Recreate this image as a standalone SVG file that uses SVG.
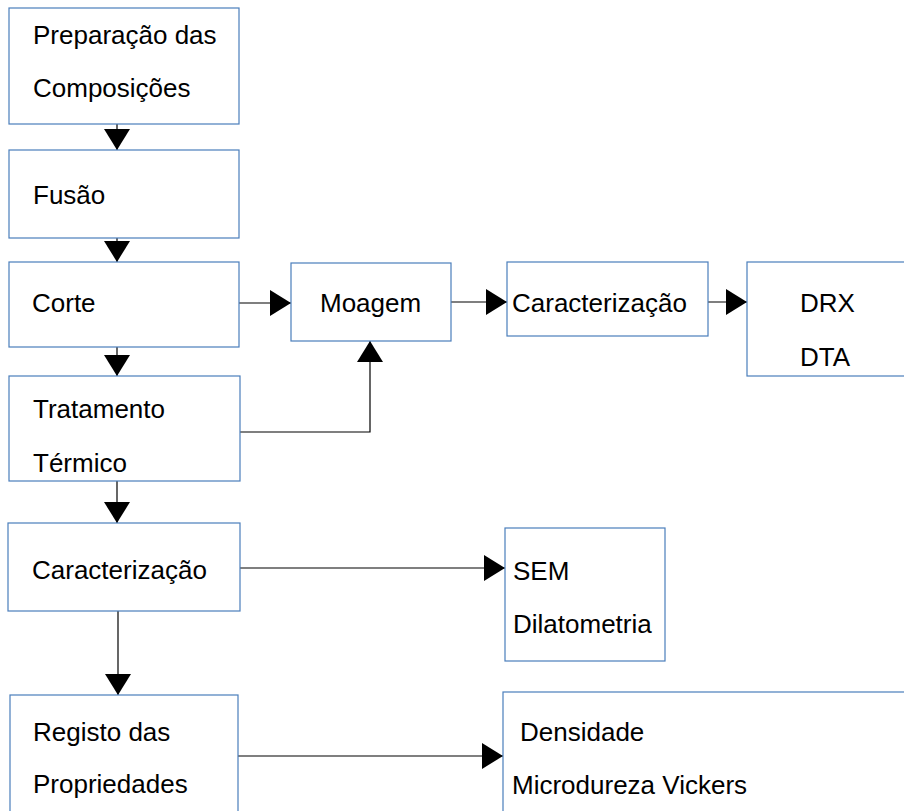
<svg xmlns="http://www.w3.org/2000/svg" width="904" height="811" viewBox="0 0 904 811">
<style>
.box{fill:#fff;stroke:#4a7ebb;stroke-width:1.2}
.t{font-family:"Liberation Sans",Arial,sans-serif;font-size:26px;fill:#000}
.c{fill:none;stroke:#000;stroke-width:1.2}
</style>
<defs>
<marker id="ah" viewBox="0 0 21 26" refX="21" refY="13" markerWidth="21" markerHeight="26" markerUnits="userSpaceOnUse" orient="auto">
<path d="M0,0 L21,13 L0,26 Z" fill="#000"/>
</marker>
</defs>
<rect width="904" height="811" fill="#fff"/>
<g id="connectors">
<path class="c" d="M117,124 V150" marker-end="url(#ah)"/>
<path class="c" d="M117,238 V262" marker-end="url(#ah)"/>
<path class="c" d="M117,347 V376" marker-end="url(#ah)"/>
<path class="c" d="M239,303 H291" marker-end="url(#ah)"/>
<path class="c" d="M240,432 H370 V341" marker-end="url(#ah)"/>
<path class="c" d="M451,302 H507" marker-end="url(#ah)"/>
<path class="c" d="M708,302 H747" marker-end="url(#ah)"/>
<path class="c" d="M117,481 V523" marker-end="url(#ah)"/>
<path class="c" d="M118,611 V695" marker-end="url(#ah)"/>
<path class="c" d="M240,568 H505" marker-end="url(#ah)"/>
<path class="c" d="M238,756 H503" marker-end="url(#ah)"/>
</g>
<g id="n1"><rect class="box" x="9" y="8" width="230" height="116"/><text class="t" x="33" y="44">Preparação das</text><text class="t" x="33" y="97">Composições</text></g>
<g id="n2"><rect class="box" x="9" y="150" width="230" height="88"/><text class="t" x="33" y="204">Fusão</text></g>
<g id="n3"><rect class="box" x="9" y="262" width="230" height="85"/><text class="t" x="32" y="312">Corte</text></g>
<g id="n4"><rect class="box" x="9" y="376" width="231" height="105"/><text class="t" x="33" y="418">Tratamento</text><text class="t" x="33" y="472">Térmico</text></g>
<g id="n5"><rect class="box" x="291" y="263" width="160" height="78"/><text class="t" x="320" y="312">Moagem</text></g>
<g id="n6"><rect class="box" x="507" y="262" width="201" height="74"/><text class="t" x="512" y="312">Caracterização</text></g>
<g id="n7"><rect class="box" x="747" y="262" width="170" height="114"/><text class="t" x="800" y="312">DRX</text><text class="t" x="800" y="366">DTA</text></g>
<g id="n8"><rect class="box" x="8" y="523" width="232" height="88"/><text class="t" x="32" y="579">Caracterização</text></g>
<g id="n9"><rect class="box" x="10" y="695" width="228" height="130"/><text class="t" x="33" y="741">Registo das</text><text class="t" x="33" y="793">Propriedades</text></g>
<g id="n10"><rect class="box" x="505" y="528" width="160" height="133"/><text class="t" x="513" y="580">SEM</text><text class="t" x="513" y="633">Dilatometria</text></g>
<g id="n11"><rect class="box" x="503" y="692" width="420" height="130"/><text class="t" x="520" y="741">Densidade</text><text class="t" x="512" y="794">Microdureza Vickers</text></g>
</svg>
